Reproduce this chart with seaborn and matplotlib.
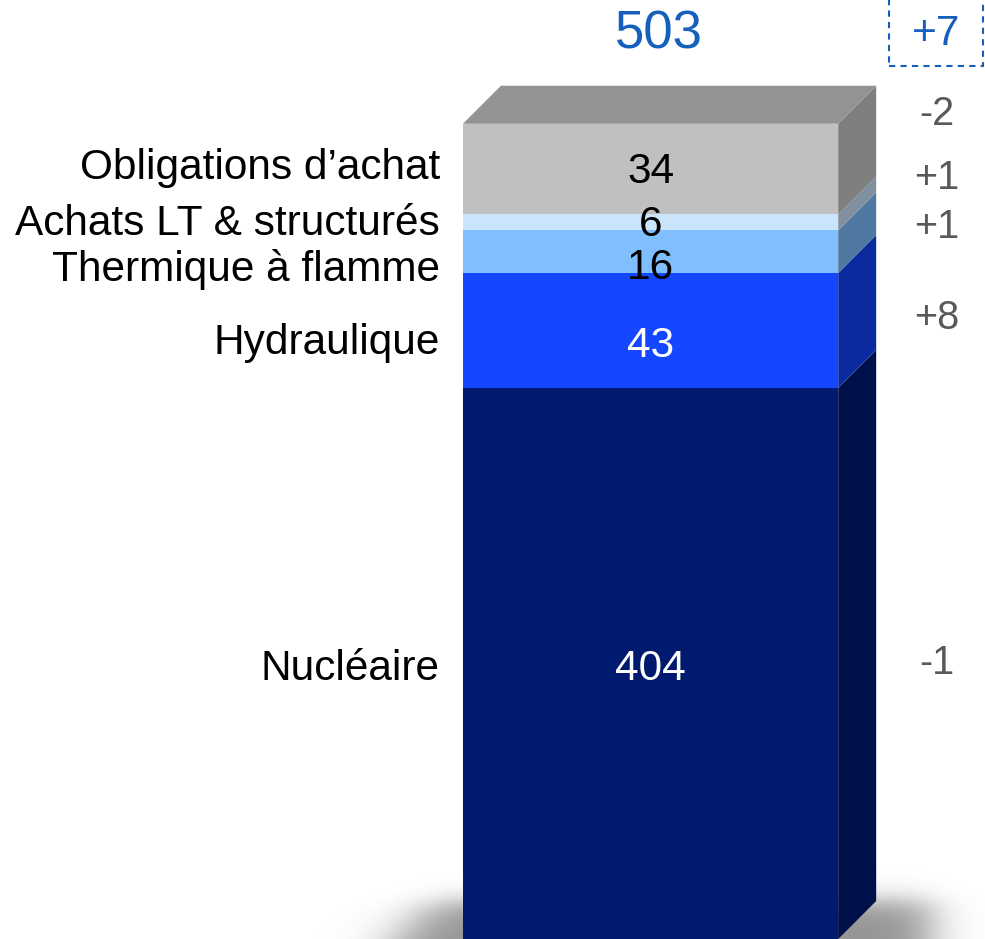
import numpy as np
import pandas as pd
import matplotlib.pyplot as plt
import seaborn as sns
from matplotlib.patches import Polygon, Rectangle

# Data, from bottom of the stack to the top
sources = ['Nucléaire', 'Hydraulique', 'Thermique à flamme', 'Achats LT & structurés', 'Obligations d’achat']
volumes = [404, 43, 16, 6, 34]
changes = ['-1', '+8', '+1', '+1', '-2']
total = 503
total_change = '+7'

# Colours
front_colors = ['#001a70', '#1447ff', '#80bfff', '#c9e4fb', '#c0c0c0']
side_colors = ['#00104a', '#0a2aa0', '#4f78a0', '#8090a0', '#7f7f7f']
top_color = '#939393'
value_colors = ['white', 'white', 'black', 'black', 'black']
BLUE = '#1560bd'
GREY_TXT = '#595959'

# small hand nudges (points) for label placement, like the original slide
left_nudge = [-4, -9, -13, -1, 1]
value_nudge = [-4, -11, -12, -2, -2]
right_nudge = [0, 9, 18, 32, 40]

sns.set_style('white')
plt.rcParams['font.family'] = ['Liberation Sans', 'DejaVu Sans']

fig = plt.figure(figsize=(9.85, 9.39), dpi=100)
ax = fig.add_axes([0, 0, 1, 1])

df = pd.DataFrame({'source': sources, 'volume': volumes})
df['top'] = df['volume'].cumsum()
df['bottom'] = df['top'] - df['volume']
df['bar'] = 'mix'

# stacked bar: cumulative bars drawn from the highest down
for i in reversed(range(len(df))):
    sns.barplot(data=df.iloc[[i]], x='bar', y='top', color=front_colors[i],
                saturation=1, width=0.8, linewidth=0, errorbar=None, ax=ax, zorder=3)

# value axis is truncated (bar base not shown to scale)
y_low, y_high = 197.4, 549.4
x_low, x_high = -1.387, 0.713

bar = ax.patches[0]
x0 = bar.get_x()
x1 = x0 + bar.get_width()
dx, dy = 0.081, 14.25  # depth of the 3d effect

# side faces
for i, row in df.iterrows():
    b = max(row['bottom'], y_low)
    t = row['top']
    ax.add_patch(Polygon([(x1, b), (x1 + dx, b + dy), (x1 + dx, t + dy), (x1, t)],
                         closed=True, facecolor=side_colors[i], edgecolor='none', zorder=3))
# top face
T = df['top'].iloc[-1]
ax.add_patch(Polygon([(x0, T), (x0 + dx, T + dy), (x1 + dx, T + dy), (x1, T)],
                     closed=True, facecolor=top_color, edgecolor='none', zorder=3))

# soft floor shadow (blurred box behind the bar foot)
px, py = np.meshgrid(np.arange(985), np.arange(939))
sig = lambda z: 1 / (1 + np.exp(-z))
shade = 0.42 * sig((px - 430 + (py - 900) * 0.8) / 18) * sig((930 - px) / 14) * sig((py - 900) / 7)
shadow = np.zeros((939, 985, 4))
shadow[..., 3] = shade
ax.imshow(shadow, extent=(x_low, x_high, y_low, y_high), aspect='auto', zorder=1,
          interpolation='bilinear')

ax.set_xlim(x_low, x_high)
ax.set_ylim(y_low, y_high)
ax.axis('off')

# labels
for i, row in df.iterrows():
    mid = (max(row['bottom'], y_low) + row['top']) / 2
    ax.annotate(row['source'], xy=(x0 - 0.049, mid), xytext=(0, left_nudge[i]),
                textcoords='offset points', ha='right', va='center', fontsize=30.5, color='black')
    ax.annotate(str(row['volume']), xy=(0.0, mid), xytext=(0, value_nudge[i]),
                textcoords='offset points', ha='center', va='center', fontsize=30.5,
                color=value_colors[i], zorder=5)
    ax.annotate(changes[i], xy=(0.611, mid), xytext=(0, right_nudge[i]),
                textcoords='offset points', ha='center', va='center', fontsize=28.5, color=GREY_TXT)

ax.annotate(str(total), xy=(0.0, total + dy), xytext=(6, 37), textcoords='offset points',
            ha='center', va='center', fontsize=38, color=BLUE)
ax.annotate(total_change, xy=(0.611, total + dy), xytext=(-1, 37), textcoords='offset points',
            ha='center', va='center', fontsize=30.5, color=BLUE)
ax.add_patch(Rectangle((0.9025, 0.93), 0.0955, 0.1, transform=ax.transAxes, fill=False,
                       edgecolor=BLUE, linestyle=(0, (3, 2.5)), linewidth=1.5, clip_on=False))

fig.savefig('out.png', dpi=100)
